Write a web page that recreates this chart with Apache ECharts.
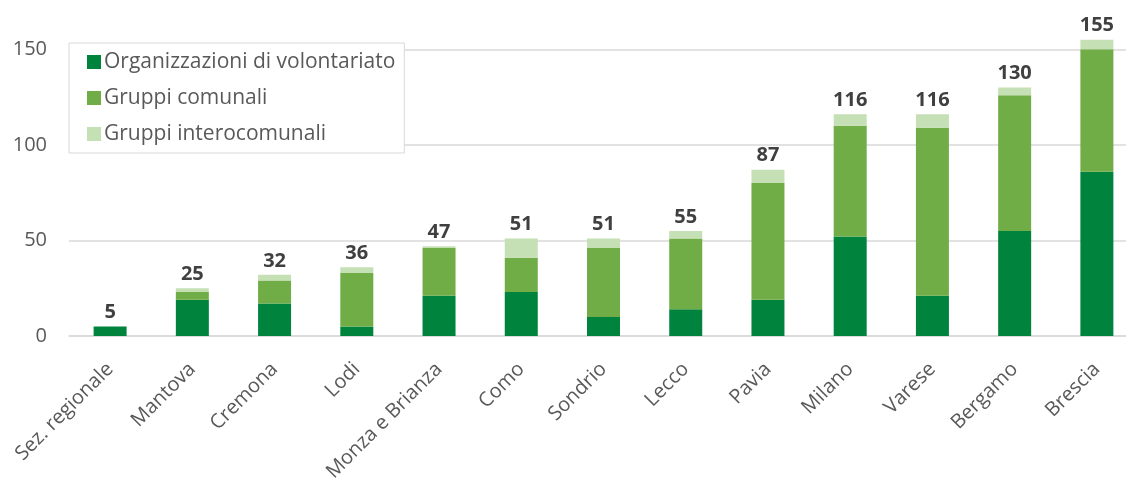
<!DOCTYPE html>
<html>
<head>
<meta charset="utf-8">
<script src="https://cdn.jsdelivr.net/npm/echarts@6/dist/echarts.min.js"></script>
<style>
html,body{margin:0;padding:0;background:#fff;overflow:hidden;width:1126px;height:479px;}
#chart{width:1150px;height:479px;}
</style>
</head>
<body>
<div id="chart"></div>
<script>
const categories = ["Sez. regionale","Mantova","Cremona","Lodi","Monza e Brianza","Como","Sondrio","Lecco","Pavia","Milano","Varese","Bergamo","Brescia"];
const organizzazioni = [5, 19, 17, 5, 21, 23, 10, 14, 19, 52, 21, 55, 86];
const comunali = [0, 4, 12, 28, 25, 18, 36, 37, 61, 58, 88, 71, 64];
const interocomunali = [0, 2, 3, 3, 1, 10, 5, 4, 7, 6, 7, 4, 5];
const yTicks = [0, 50, 100, 150];

const totals = categories.map((c, i) => organizzazioni[i] + comunali[i] + interocomunali[i]);
const FONT = "Open Sans";

const chart = echarts.init(document.getElementById('chart'), null, {renderer: 'canvas'});
chart.setOption({
  animation: false,
  textStyle: {fontFamily: FONT},
  grid: {left: 69, top: 49.3, width: 1069, height: 286.7, containLabel: false, outerBoundsMode: 'none'},
  legend: {
    orient: 'vertical',
    left: 69, top: 43,
    padding: [8, 9, 8, 18],
    backgroundColor: '#ffffff',
    borderColor: '#d9d9d9',
    borderWidth: 1,
    itemWidth: 14, itemHeight: 14, itemGap: 14,
    icon: 'rect',
    textStyle: {fontFamily: FONT, fontSize: 21, color: '#595959', lineHeight: 22, padding: [0, 0, 0, -2]},
    data: ['Organizzazioni di volontariato', 'Gruppi comunali', 'Gruppi interocomunali']
  },
  xAxis: {
    type: 'category',
    data: categories,
    axisLine: {lineStyle: {color: '#d9d9d9', width: 1.5}},
    axisTick: {show: false},
    axisLabel: {rotate: 45, interval: 0, fontFamily: FONT, fontSize: 20, color: '#595959', margin: 30}
  },
  yAxis: {
    type: 'value',
    min: 0, max: yTicks[yTicks.length - 1], interval: 50,
    axisLine: {show: false},
    axisTick: {show: false},
    splitLine: {lineStyle: {color: '#d9d9d9', width: 1.5}},
    axisLabel: {fontFamily: FONT, fontSize: 20, color: '#595959', margin: 22}
  },
  series: [
    {name: 'Organizzazioni di volontariato', type: 'bar', stack: 'tot', data: organizzazioni, barWidth: 33, clip: false,
     itemStyle: {color: '#00843d'}},
    {name: 'Gruppi comunali', type: 'bar', stack: 'tot', data: comunali, barWidth: 33, clip: false,
     itemStyle: {color: '#70ad47'}},
    {name: 'Gruppi interocomunali', type: 'bar', stack: 'tot', data: interocomunali, barWidth: 33, clip: false,
     itemStyle: {color: '#c5e0b4'},
     label: {show: true, position: 'top', distance: 4, fontFamily: FONT, fontWeight: 'bold', fontSize: 20, color: '#404040',
       formatter: p => String(totals[p.dataIndex])}}
  ]
});
</script>
</body>
</html>
